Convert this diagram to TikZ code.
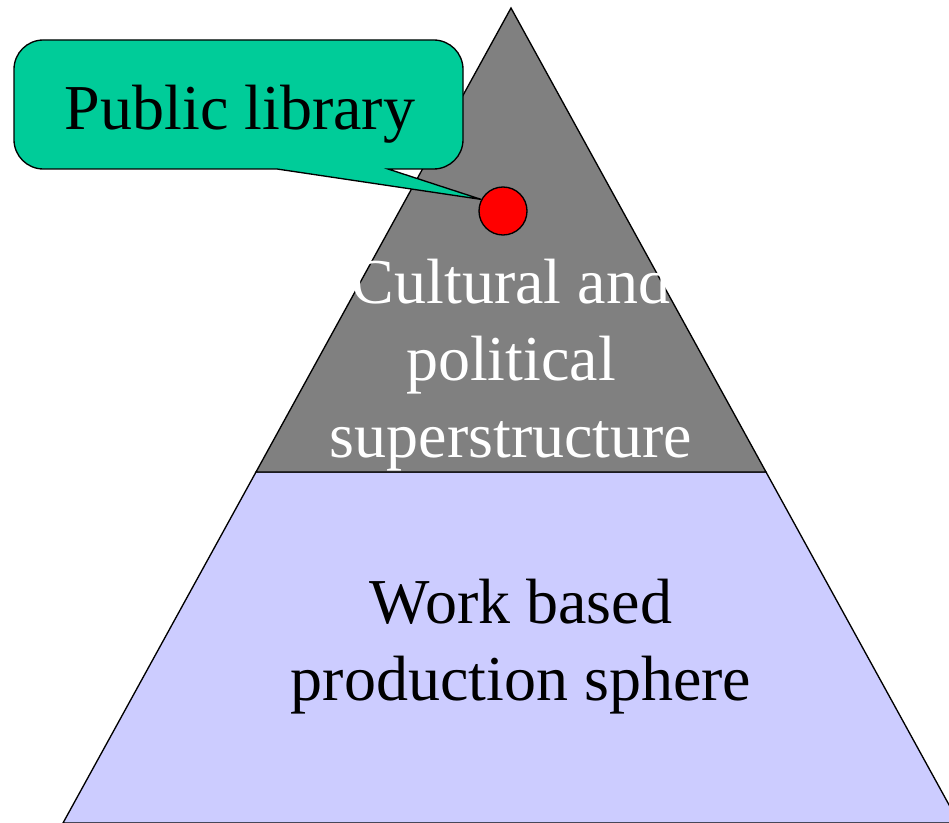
\documentclass[tikz,border=0pt]{standalone}
\usepackage{fontspec}
\setmainfont{Liberation Serif}
\usepackage{tikz}

\definecolor{calloutgreen}{RGB}{0,204,153}
\definecolor{topgray}{RGB}{128,128,128}
\definecolor{baseblue}{RGB}{204,204,255}

\begin{document}
\begin{tikzpicture}[x=0.75pt,y=0.75pt,yscale=-1,xscale=1,
    bigtext/.style={font=\fontsize{48}{57.6}\selectfont, inner sep=0pt, align=center},
    layer/.style={draw=black, line width=1pt, line join=miter}]
    \useasboundingbox (0,0) rectangle (949,823);
    \clip (0,0) rectangle (949,823);

    %Lower layer
    \draw [layer, fill=baseblue] (256,472) -- (766,472) -- (959,823) -- (63,823) -- cycle ;
    %Upper layer
    \draw [layer, fill=topgray] (511,8) -- (766,472) -- (256,472) -- cycle ;

    % Text Node
    \node [bigtext, text=white, anchor=base] (upper) at (511,457) {Cultural and\\political\\superstructure};
    % Text Node
    \node [bigtext, anchor=base] (lower) at (521,700) {Work based\\production sphere};

    %Red dot
    \node [circle, draw=black, line width=1pt, fill=red, minimum size=36pt, inner sep=0pt] (dot) at (503,211) {};

    %Callout
    \draw [line width=1pt, fill=calloutgreen] (388,169) [rounded corners=22] -- (463,169) -- (463,40) -- (14,40) -- (14,169) [sharp corners] -- (277,169) -- (dot.152) -- cycle ;
    % Text Node
    \node [bigtext, anchor=base] (callout) at (240,130) {Public library};
\end{tikzpicture}
\end{document}
